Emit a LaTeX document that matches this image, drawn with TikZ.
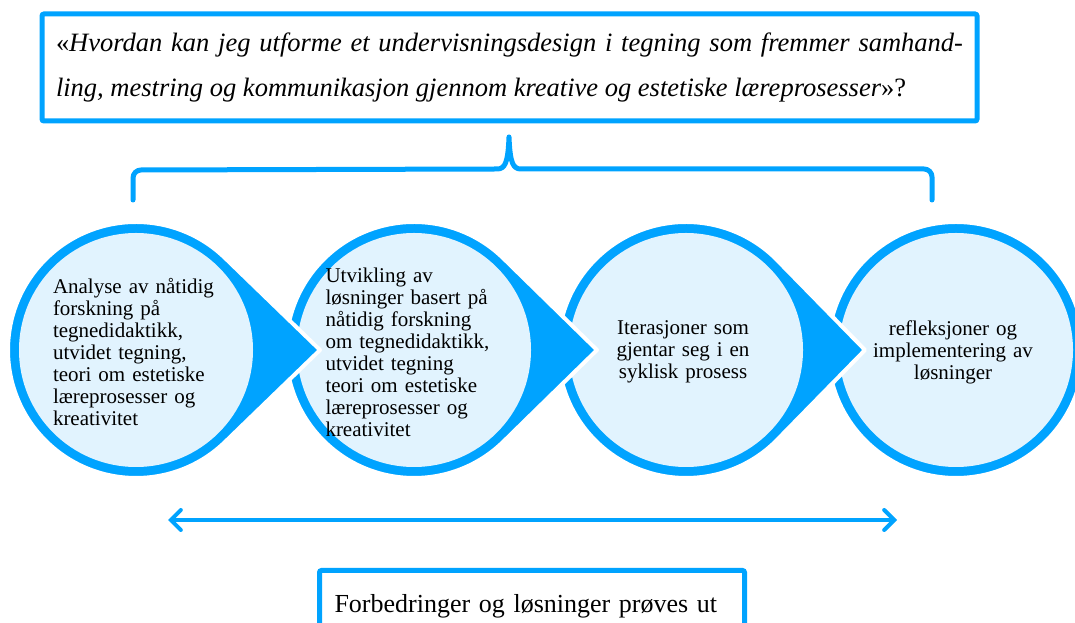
\documentclass[tikz,border=0pt]{standalone}
\usepackage{fontspec}
\setmainfont{Liberation Serif}
\usetikzlibrary{arrows.meta, calc, positioning, backgrounds}
\definecolor{ringblue}{RGB}{0,163,255}
\definecolor{paleblue}{RGB}{225,243,254}

\begin{document}
\begin{tikzpicture}[x=1pt, y=1pt,
  qbox/.style={draw=ringblue, line width=5pt, rounded corners=2pt, inner xsep=14pt, inner ysep=0pt},
  steptext/.style={font=\fontsize{21}{22}\selectfont, inner sep=0pt},
  tear/.style={fill=ringblue, draw=white, line width=4pt, line join=round},
  core/.style={fill=paleblue},
  bluebar/.style={draw=ringblue, line width=5pt, line cap=round, line join=round}]
\useasboundingbox (0,0) rectangle (1075,623);
\clip (0,0) rectangle (1075,623);

% research question
\node[qbox, text width=907pt, minimum height=107pt, align=justify,
      font=\fontsize{26.5}{45}\selectfont] (question) at (509.5,555.5)
  {«\textit{Hvordan kan jeg utforme et undervisningsdesign i tegning som fremmer samhand-\linebreak ling, mestring og kommunikasjon gjennom kreative og estetiske læreprosesser}»?};

% circle centres
\coordinate (s1) at (136,273);
\coordinate (s2) at (414,273);
\coordinate (s3) at (686,273);
\coordinate (s4) at (956,273);

% the four steps
\node[steptext, text width=162pt, align=left] (c1) at ([shift={(-2pt,-2pt)}]s1)
  {Analyse av nåtidig\\ forskning på\\ tegnedidaktikk,\\ utvidet tegning,\\ teori om estetiske\\ læreprosesser og\\ kreativitet};
\node[steptext, text width=165pt, align=left] (c2) at ([shift={(-6pt,-2pt)}]s2)
  {Utvikling av\\ løsninger basert på\\ nåtidig forskning\\ om tegnedidaktikk,\\ utvidet tegning\\ teori om estetiske\\ læreprosesser og\\ kreativitet};
\node[steptext, text width=170pt, align=center] (c3) at ([shift={(-3pt,-2pt)}]s3)
  {Iterasjoner som\\ gjentar seg i en\\ syklisk prosess};
\node[steptext, text width=190pt, align=center] (c4) at ([shift={(-3pt,-2pt)}]s4)
  {refleksjoner og\\ implementering av\\ løsninger};

\begin{scope}[on background layer]
\path[tear] (s4) circle [radius=128];
\fill[core] (s4) circle [radius=117];
\path[tear] ([xshift=179pt]s3) -- ([shift={(46:128)}]s3)
  arc [start angle=46, end angle=314, radius=128] -- cycle;
\fill[core] (s3) circle [radius=117];
\path[tear] ([xshift=183pt]s2) -- ([shift={(46:128)}]s2)
  arc [start angle=46, end angle=314, radius=128] -- cycle;
\fill[core] (s2) circle [radius=117];
\path[tear] ([xshift=184pt]s1) -- ([shift={(46:128)}]s1)
  arc [start angle=46, end angle=314, radius=128] -- cycle;
\fill[core] (s1) circle [radius=117];
\end{scope}

% brace
\draw[bluebar] (133,423) -- (133,445) arc [start angle=180, end angle=90, radius=8]
  -- (497,454) .. controls (505,454) and (508,460) .. (509,486)
  .. controls (510,460) and (513,454) .. (521,454)
  -- (924,454) arc [start angle=90, end angle=0, radius=8] -- (932,423);

% iteration arrow
\coordinate (arrL) at (168,103);
\coordinate (arrR) at (897,103);
\draw[ringblue, line width=4pt,
  {Straight Barb[length=10pt, width=20pt, line cap=round]}-{Straight Barb[length=10pt, width=20pt, line cap=round]}]
  (arrL) -- (arrR);

\node[qbox, minimum width=425pt, minimum height=72pt, anchor=north west,
      text width=395pt, inner xsep=15pt, align=left,
      font=\fontsize{26}{30}\selectfont] (tested) at (317,55)
  {Forbedringer og løsninger prøves ut};
\end{tikzpicture}
\end{document}
